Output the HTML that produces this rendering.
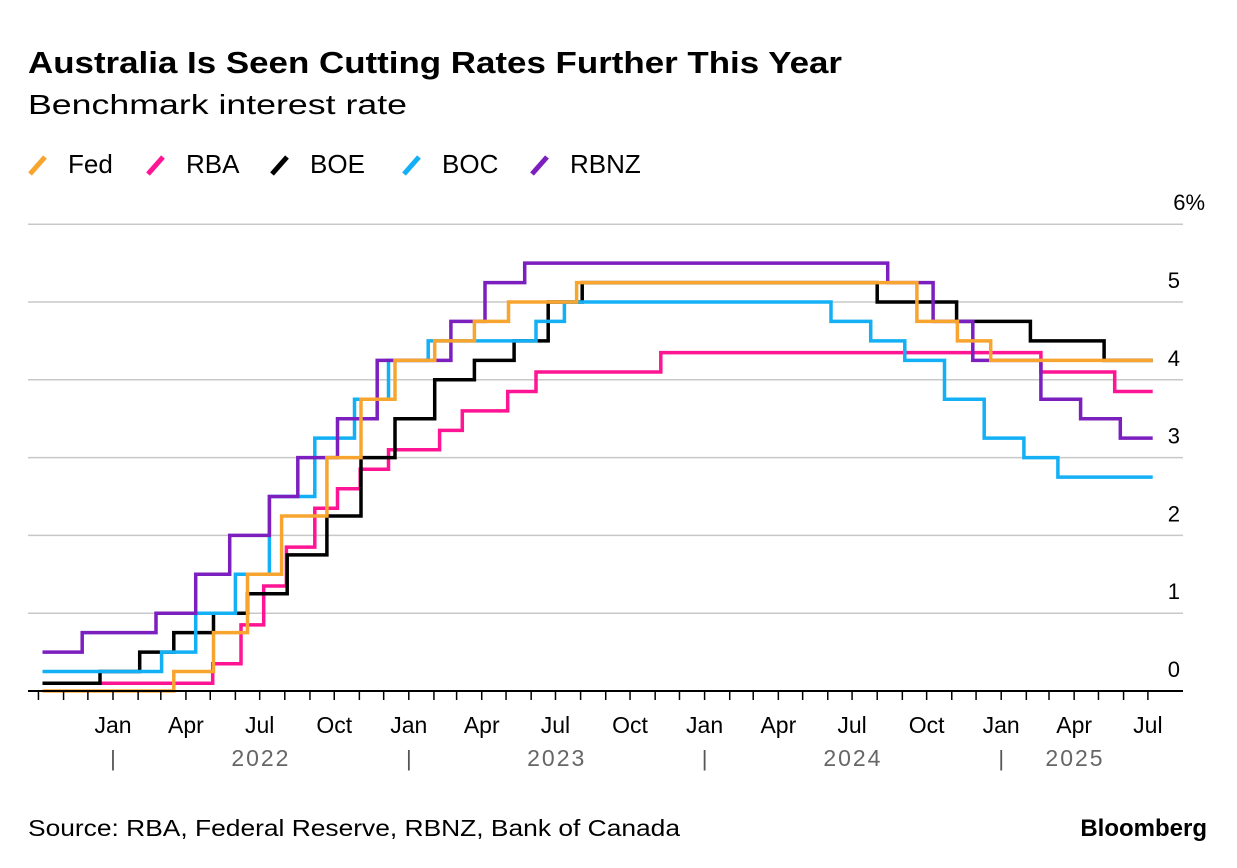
<!DOCTYPE html>
<html><head><meta charset="utf-8"><style>
body{margin:0;background:#fff;font-family:"Liberation Sans",sans-serif;}
svg{display:block}
</style></head><body>
<svg width="1237" height="868" id="c">
<text x="28" y="73" font-size="31" font-weight="bold" fill="#000" textLength="814" lengthAdjust="spacingAndGlyphs">Australia Is Seen Cutting Rates Further This Year</text>
<text x="28" y="114" font-size="28" fill="#000" textLength="379" lengthAdjust="spacingAndGlyphs">Benchmark interest rate</text>
<g id="legend"></g>
<g id="grid"></g>
<g id="series"></g>
<g id="xaxis"></g>
<text x="28" y="836" font-size="23" fill="#000" textLength="652" lengthAdjust="spacingAndGlyphs">Source: RBA, Federal Reserve, RBNZ, Bank of Canada</text>
<text x="1207" y="836" font-size="24" font-weight="bold" fill="#000" text-anchor="end">Bloomberg</text>
</svg>
<script>
const seriesNames = ["Fed","RBA","BOE","BOC","RBNZ"];
const seriesColors = ["#f8a530","#ff1493","#000000","#13b0f5","#7c1fbf"];
const yTicks = [0,1,2,3,4,5,6];
const fedSteps = [["2021-10-06",0],["2022-03-17",0.25],["2022-05-05",0.75],["2022-06-16",1.5],["2022-07-28",2.25],["2022-09-22",3.0],["2022-11-03",3.75],["2022-12-15",4.25],["2023-02-02",4.5],["2023-03-23",4.75],["2023-05-04",5.0],["2023-07-27",5.25],["2024-09-19",4.75],["2024-11-08",4.5],["2024-12-19",4.25]];
const rbaSteps = [["2021-10-06",0.1],["2022-05-04",0.35],["2022-06-08",0.85],["2022-07-06",1.35],["2022-08-03",1.85],["2022-09-07",2.35],["2022-10-05",2.6],["2022-11-02",2.85],["2022-12-07",3.1],["2023-02-08",3.35],["2023-03-08",3.6],["2023-05-03",3.85],["2023-06-07",4.1],["2023-11-08",4.35],["2025-02-19",4.1],["2025-05-21",3.85]];
const boeSteps = [["2021-10-06",0.1],["2021-12-16",0.25],["2022-02-03",0.5],["2022-03-17",0.75],["2022-05-05",1.0],["2022-06-16",1.25],["2022-08-04",1.75],["2022-09-22",2.25],["2022-11-03",3.0],["2022-12-15",3.5],["2023-02-02",4.0],["2023-03-23",4.25],["2023-05-11",4.5],["2023-06-22",5.0],["2023-08-03",5.25],["2024-08-01",5.0],["2024-11-07",4.75],["2025-02-06",4.5],["2025-05-08",4.25]];
const bocSteps = [["2021-10-06",0.25],["2022-03-02",0.5],["2022-04-13",1.0],["2022-06-01",1.5],["2022-07-13",2.5],["2022-09-07",3.25],["2022-10-26",3.75],["2022-12-07",4.25],["2023-01-25",4.5],["2023-06-07",4.75],["2023-07-12",5.0],["2024-06-05",4.75],["2024-07-24",4.5],["2024-09-04",4.25],["2024-10-23",3.75],["2024-12-11",3.25],["2025-01-29",3.0],["2025-03-12",2.75]];
const rbnzSteps = [["2021-10-06",0.5],["2021-11-24",0.75],["2022-02-23",1.0],["2022-04-13",1.5],["2022-05-25",2.0],["2022-07-13",2.5],["2022-08-17",3.0],["2022-10-05",3.5],["2022-11-23",4.25],["2023-02-22",4.75],["2023-04-05",5.25],["2023-05-24",5.5],["2024-08-14",5.25],["2024-10-09",4.75],["2024-11-27",4.25],["2025-02-19",3.75],["2025-04-09",3.5],["2025-05-28",3.25]];
const allSteps = [fedSteps,rbaSteps,boeSteps,bocSteps,rbnzSteps];
const monthLabels = ["Jan","Apr","Jul","Oct"];
const yearLabels = ["2022","2023","2024","2025"];
const endDate = "2025-07-07";

const NS="http://www.w3.org/2000/svg";
const t0=Date.parse("2022-01-01"), X0=113, PXD=296/365.25;
function x(d){return X0+(Date.parse(d)-t0)/86400000*PXD;}
function y(v){return 691-v*77.8;}
function mk(tag,attrs,parent){const e=document.createElementNS(NS,tag);for(const k in attrs)e.setAttribute(k,attrs[k]);parent.appendChild(e);return e;}
const grid=document.getElementById('grid'),ser=document.getElementById('series'),xa=document.getElementById('xaxis'),lg=document.getElementById('legend');
let lx=[30,148,272,404,532];
seriesNames.forEach((n,i)=>{
 const g=mk('g',{},lg);
 
 
 mk('line',{x1:lx[i],y1:174,x2:lx[i]+15,y2:157,stroke:seriesColors[i],'stroke-width':5},g);
 const t=mk('text',{x:lx[i]+38,y:173,'font-size':26,fill:'#000'},g);t.textContent=n;
});
yTicks.forEach(v=>{
 if(v>0){const l=mk('line',{x1:28,x2:1183,y1:y(v),y2:y(v),stroke:'#c8c8c8','stroke-width':1.5},grid);
 
 }
 const t=mk('text',{x:1180,y:y(v)-14,'font-size':22,fill:'#000','text-anchor':'end'},grid);
 
 
 t.textContent=v+(v===6?'%':'');
 if(v===6){t.setAttribute('x',1205);}
});
allSteps.forEach((s,i)=>{
 let d='';
 s.forEach((p,j)=>{const nx=j+1<s.length?s[j+1][0]:endDate;
  d+=(j?'L':'M')+x(p[0]).toFixed(1)+','+y(p[1]).toFixed(1)+'L'+x(nx).toFixed(1)+','+y(p[1]).toFixed(1);});
 const p=mk('path',{d:d,fill:'none',stroke:seriesColors[i],'stroke-width':3.5},ser);
 
 
});
ser.appendChild(ser.children[0]);
const ax=mk('line',{x1:28,x2:1183,y1:691,y2:691,stroke:'#000','stroke-width':2},xa);


for(let yr=2021;yr<=2025;yr++)for(let m=0;m<12;m++){
 const ds=yr+'-'+String(m+1).padStart(2,'0')+'-01';
 const xx=x(ds); if(xx<35||xx>1160)continue;
 mk('line',{x1:xx,x2:xx,y1:691,y2:700,stroke:'#000','stroke-width':1.5},xa);
 if(m%3===0&&xx>60){const t=mk('text',{x:xx,y:733,'font-size':23,fill:'#000','text-anchor':'middle'},xa);
  
  
  t.textContent=monthLabels[m/3];}
}
yearLabels.forEach((yl,i)=>{
 const xs=x((2022+i)+'-01-01');
 const sep=mk('text',{x:xs,y:766,'font-size':22,fill:'#555','text-anchor':'middle'},xa);sep.textContent='|';
 const xe=i<3?x((2023+i)+'-01-01'):x('2025-07-15');
 const t=mk('text',{x:i<3?(xs+xe)/2:1075,y:766,'font-size':23,fill:'#666','text-anchor':'middle','letter-spacing':2},xa);
 
 
 t.textContent=yl;
});
</script>
</body></html>
